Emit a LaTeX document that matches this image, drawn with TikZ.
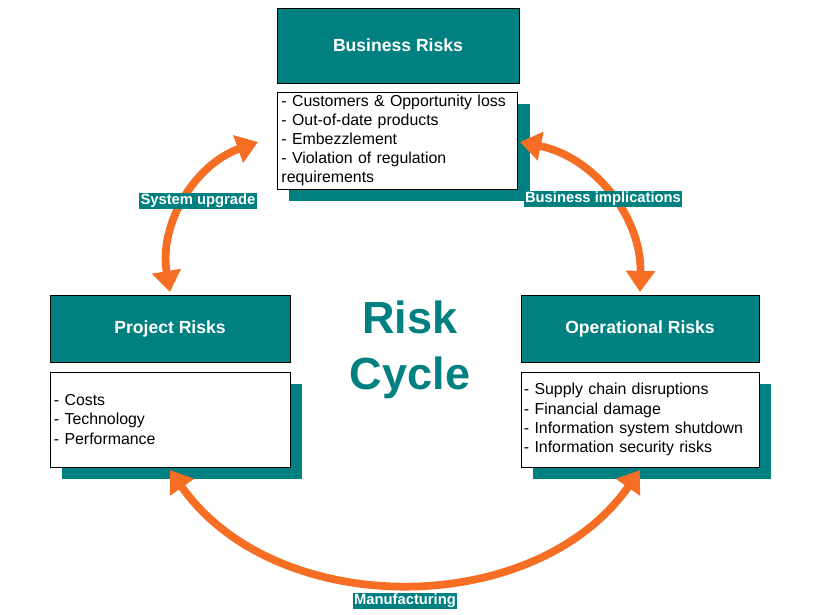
\documentclass[tikz,border=0pt]{standalone}
\usepackage{fontspec}
\setmainfont{Liberation Sans}
\usetikzlibrary{arrows.meta,shadows}
\definecolor{riskteal}{RGB}{0,128,128}
\definecolor{riskorange}{RGB}{245,110,35}
\tikzset{
  header/.style={draw=black, fill=riskteal, text=white, font=\fontsize{12.5}{15}\selectfont\bfseries,
    minimum width=6.05cm, minimum height=1.7cm, inner sep=0pt},
  listbox/.style={draw=black, fill=white, align=left, font=\fontsize{11.3}{13.6}\selectfont,
    minimum width=6cm, minimum height=2.375cm, text width=5.8cm, inner sep=2pt,
    drop shadow={shadow xshift=0.3cm, shadow yshift=-0.3cm, fill=riskteal, opacity=1}},
  cyclearrow/.style={draw=riskorange, line width=5.5pt,
    {Triangle[width=20pt,length=15pt]}-{Triangle[width=20pt,length=15pt]}},
  tag/.style={fill=riskteal, text=white, font=\fontsize{10.5}{12}\selectfont\bfseries, inner sep=1pt}
}
\begin{document}
\begin{tikzpicture}[x=0.025cm,y=-0.025cm]
\useasboundingbox[fill=white] (0,0) rectangle (820,614);
% boxes
\node[header, minimum height=1.875cm] (business) at (398,45.5) {Business Risks};
\node[listbox] (businesslist) at (397.5,140.5) {- Customers \& Opportunity loss\\- Out-of-date products\\- Embezzlement\\- Violation of regulation\\requirements};
\node[header, minimum width=6cm, minimum height=1.675cm] (project) at (170,328.5) {Project Risks};
\node[listbox] (projectlist) at (170,419.5) {- Costs\\- Technology\\- Performance};
\node[header, minimum width=5.95cm, minimum height=1.675cm] (operational) at (640,328.5) {Operational Risks};
\node[listbox, minimum width=5.95cm] (operationallist) at (640,419.5) {- Supply chain disruptions\\- Financial damage\\- Information system shutdown\\- Information security risks};
\node[text=riskteal, font=\fontsize{32}{40}\selectfont\bfseries, align=center] (cycle) at (410,350) {Risk\\Cycle};
% arrows
\coordinate (pa) at (170,292);
\coordinate (ba) at (258,142);
\coordinate (bb) at (520,142);
\coordinate (oa) at (640,292);
\coordinate (ob) at (640,470);
\coordinate (pb) at (170,470);
\draw[cyclearrow] (pa) to[bend left=40] (ba);
\draw[cyclearrow] (bb) to[bend left=40] (oa);
\draw[cyclearrow] (ob) to[bend left=55] (pb);
% labels
\node[tag] (upgrade) at (198,201) {System upgrade};
\node[tag] (implications) at (603,199) {Business implications};
\node[tag] (manufacturing) at (405,601) {Manufacturing};
\end{tikzpicture}
\end{document}
